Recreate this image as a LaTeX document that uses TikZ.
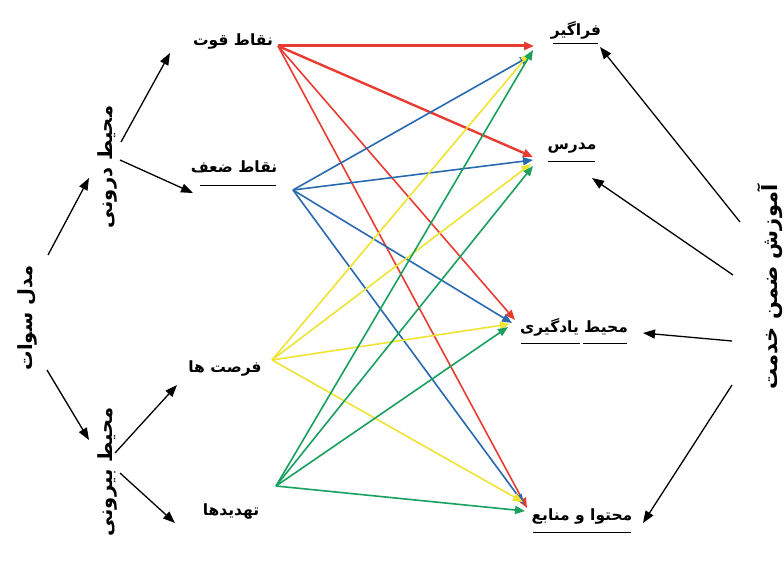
\documentclass[tikz,border=0pt]{standalone}
\usepackage{fontspec}
\usetikzlibrary{arrows.meta}
\TeXXeTstate=1
\newfontfamily\fa[Script=Arabic]{DejaVu Sans}
\definecolor{cred}{RGB}{232,60,50}
\definecolor{cblue}{RGB}{40,105,175}
\definecolor{cyel}{RGB}{240,228,50}
\definecolor{cgreen}{RGB}{25,160,95}
\begin{document}
\begin{tikzpicture}[x=1pt,y=-1pt,
  lbl/.style={font=\fa\bfseries\fontsize{15.5}{18}\selectfont, inner sep=0pt},
  vlbl/.style={font=\fa\bfseries\fontsize{19.5}{22}\selectfont, inner sep=0pt, rotate=90},
  blk/.style={draw=black, line width=1.3pt, -{Triangle[length=12pt,width=9pt]}},
  col/.style={line width=1.6pt, -{Triangle[length=10pt,width=8pt]}},
  uline/.style={draw=black, line width=1pt}]
\useasboundingbox (0,0) rectangle (784,580);
\fill[white] (0,0) rectangle (784,580);

% left texts
\node[vlbl] (swot) at (27,318) {\beginR مدل سوات\endR};
\node[vlbl] (inner) at (107,167) {\beginR محیط درونی\endR};
\node[vlbl] (outer) at (107,472) {\beginR محیط بیرونی\endR};
\node[vlbl, font=\fa\bfseries\fontsize{21}{24}\selectfont] (train) at (770,287) {\beginR آموزش ضمن خدمت\endR};

% middle texts
\node[lbl] (str) at (233,42) {\beginR نقاط قوت\endR};
\node[lbl] (weak) at (234,167) {\beginR نقاط ضعف\endR};
\node[lbl] (opp) at (225,369) {\beginR فرصت ها\endR};
\node[lbl] (thr) at (231,512) {\beginR تهدیدها\endR};

% right texts
\node[lbl] (learner) at (576,30) {\beginR فراگیر\endR};
\node[lbl] (teacher) at (572,148) {\beginR مدرس\endR};
\node[lbl] (env) at (574,327) {\beginR محیط یادگیری\endR};
\node[lbl] (content) at (582,516) {\beginR محتوا و منابع\endR};

% underlines
\draw[uline] (200,186) -- (276,186);
\draw[uline] (553,44) -- (598,44);
\draw[uline] (548,162) -- (595,162);
\draw[uline] (521,343) -- (580,343);
\draw[uline] (583,343) -- (627,343);
\draw[uline] (533,532) -- (631,532);

% coloured connector ends
\coordinate (s1) at (278,46);
\coordinate (s2) at (293,190);
\coordinate (s3) at (272,360);
\coordinate (s4) at (276,486);

\coordinate (t1r) at (534,46);
\coordinate (t1b) at (530,56);
\coordinate (t1y) at (530,53);
\coordinate (t1g) at (533,50);
\coordinate (t2r) at (533,157);
\coordinate (t2b) at (533,160);
\coordinate (t2y) at (531,164);
\coordinate (t2g) at (533,166);
\coordinate (t3r) at (515,320);
\coordinate (t3b) at (512,323);
\coordinate (t3y) at (510,324);
\coordinate (t3g) at (508,327);
\coordinate (t4r) at (527,508);
\coordinate (t4b) at (524,504);
\coordinate (t4y) at (523,502);
\coordinate (t4g) at (525,511);

% red
\draw[col, cred, line width=3pt] (s1) -- (t1r);
\draw[col, cred, line width=2.4pt] (s1) -- (t2r);
\draw[col, cred] (s1) -- (t3r);
\draw[col, cred] (s1) -- (t4r);
% blue
\draw[col, cblue] (s2) -- (t1b);
\draw[col, cblue] (s2) -- (t2b);
\draw[col, cblue] (s2) -- (t3b);
\draw[col, cblue] (s2) -- (t4b);
% yellow
\draw[col, cyel] (s3) -- (t1y);
\draw[col, cyel] (s3) -- (t2y);
\draw[col, cyel] (s3) -- (t3y);
\draw[col, cyel] (s3) -- (t4y);
% green
\draw[col, cgreen] (s4) -- (t1g);
\draw[col, cgreen] (s4) -- (t2g);
\draw[col, cgreen] (s4) -- (t3g);
\draw[col, cgreen] (s4) -- (t4g);

% black arrows
\coordinate (a1s) at (48,255); \coordinate (a1e) at (89,178);
\coordinate (a2s) at (121,142); \coordinate (a2e) at (170,53);
\coordinate (a3s) at (120,160); \coordinate (a3e) at (193,193);
\coordinate (a4s) at (47,370); \coordinate (a4e) at (89,440);
\coordinate (a5s) at (115,453); \coordinate (a5e) at (177,385);
\coordinate (a6s) at (120,473); \coordinate (a6e) at (175,523);
\coordinate (b1s) at (740,222); \coordinate (b1e) at (600,47);
\coordinate (b2s) at (733,275); \coordinate (b2e) at (592,178);
\coordinate (b3s) at (732,341); \coordinate (b3e) at (643,333);
\coordinate (b4s) at (732,385); \coordinate (b4e) at (643,523);

\draw[blk] (a1s) -- (a1e);
\draw[blk] (a2s) -- (a2e);
\draw[blk] (a3s) -- (a3e);
\draw[blk] (a4s) -- (a4e);
\draw[blk] (a5s) -- (a5e);
\draw[blk] (a6s) -- (a6e);
\draw[blk] (b1s) -- (b1e);
\draw[blk] (b2s) -- (b2e);
\draw[blk] (b3s) -- (b3e);
\draw[blk] (b4s) -- (b4e);
\end{tikzpicture}
\end{document}
